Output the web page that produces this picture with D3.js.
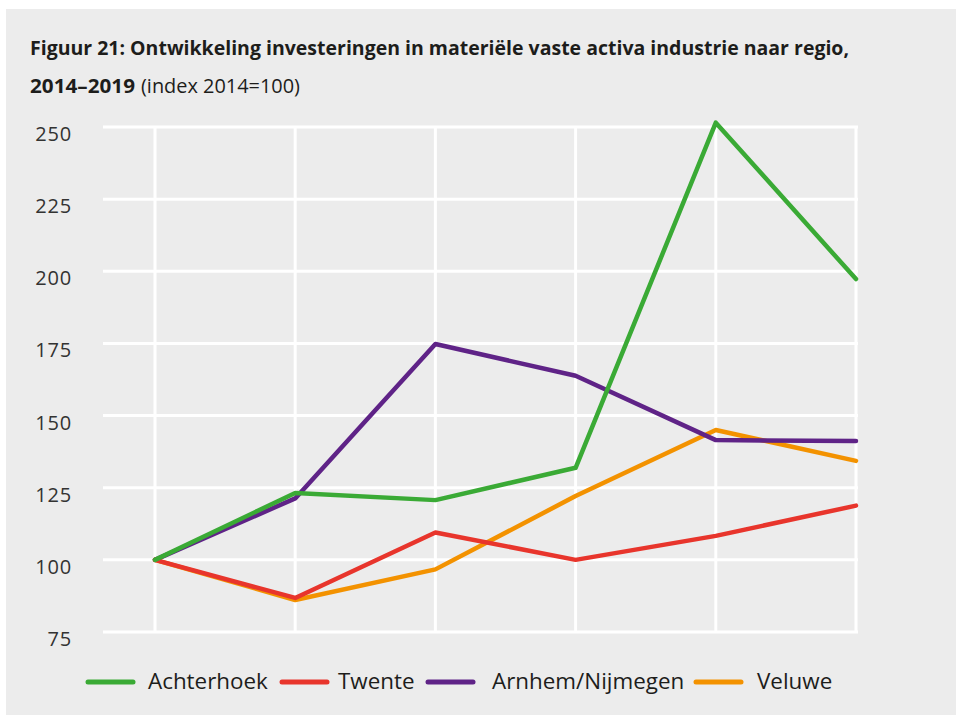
<!DOCTYPE html>
<html><head><meta charset="utf-8">
<script src="https://cdn.jsdelivr.net/npm/d3@7"></script>
<style>body{margin:0;background:#fff}svg{display:block}</style>
</head><body>
<svg id="c" width="956" height="715"></svg>
<script>
const years = [2014, 2015, 2016, 2017, 2018, 2019];
const yTicks = [75, 100, 125, 150, 175, 200, 225, 250];
const seriesNames = ["Achterhoek", "Twente", "Arnhem/Nijmegen", "Veluwe"];
const seriesColors = ["#3aaa35", "#e8352c", "#5f2387", "#f39200"];
const achterhoek = [100, 123.2, 120.7, 131.9, 251.5, 197.3];
const twente = [100, 86.8, 109.5, 100, 108.3, 118.8];
const arnhemNijmegen = [100, 121.3, 174.8, 163.8, 141.5, 141.2];
const veluwe = [100, 86.1, 96.7, 122.1, 145, 134.3];
const seriesValues = [achterhoek, twente, arnhemNijmegen, veluwe];

const svg = d3.select("#c");
svg.append("rect").attr("x", 6).attr("y", 9).attr("width", 950).attr("height", 706).attr("fill", "#ececec");

const x = d3.scalePoint().domain(years).range([155, 856]);
const y = d3.scaleLinear().domain([75, 250]).range([632, 127]);

// title
const font = "'Open Sans', sans-serif";
svg.append("text").attr("x", 30).attr("y", 55).attr("font-family", font).attr("font-weight", 700)
  .attr("font-size", 20).attr("fill", "#1d1d1b").attr("textLength", 819).attr("lengthAdjust", "spacingAndGlyphs")
  .text("Figuur 21: Ontwikkeling investeringen in materiële vaste activa industrie naar regio,");
svg.append("text").attr("x", 30).attr("y", 93).attr("font-family", font).attr("font-weight", 700)
  .attr("font-size", 20).attr("fill", "#1d1d1b").attr("textLength", 105).attr("lengthAdjust", "spacingAndGlyphs")
  .text("2014–2019");
svg.append("text").attr("x", 141).attr("y", 93).attr("font-family", font).attr("font-weight", 400)
  .attr("font-size", 20).attr("fill", "#1d1d1b").attr("textLength", 159).attr("lengthAdjust", "spacingAndGlyphs")
  .text("(index 2014=100)");

// grid
const g = svg.append("g");
g.selectAll("line.h").data(yTicks).enter().append("line")
  .attr("x1", 103).attr("x2", 858).attr("y1", d => y(d)).attr("y2", d => y(d))
  .attr("stroke", "#fff").attr("stroke-width", 3);
g.selectAll("line.v").data(years).enter().append("line")
  .attr("x1", d => x(d)).attr("x2", d => x(d)).attr("y1", y(250)).attr("y2", y(75))
  .attr("stroke", "#fff").attr("stroke-width", 3);

// y axis labels
const yAxis = d3.axisLeft(y).tickValues(yTicks).tickSize(0).tickPadding(0);
const ya = svg.append("g").attr("transform", "translate(72,0)").call(yAxis);
ya.select(".domain").remove();
ya.selectAll("text").attr("font-family", font).attr("font-size", 20).attr("fill", "#333332")
  .attr("font-weight", 500).attr("dy", null).attr("y", 13.5).attr("letter-spacing", 0.8);

// lines
const line = d3.line().x((d, i) => x(years[i])).y(d => y(d));
const order = [3, 2, 1, 0];
svg.append("g").selectAll("path").data(order).enter().append("path")
  .attr("d", i => line(seriesValues[i])).attr("fill", "none")
  .attr("stroke", i => seriesColors[i]).attr("stroke-width", 4.5)
  .attr("stroke-linejoin", "round").attr("stroke-linecap", "round");

// legend
const legX = [88, 282, 428, 696];
const txtX = [148, 338, 492, 757];
const lg = svg.append("g");
seriesNames.forEach((n, i) => {
  lg.append("line").attr("x1", legX[i]).attr("x2", legX[i] + 45).attr("y1", 682).attr("y2", 682)
    .attr("stroke", seriesColors[i]).attr("stroke-width", 5).attr("stroke-linecap", "round");
  lg.append("text").attr("x", txtX[i]).attr("y", 689).attr("font-family", font).attr("font-size", 22.4)
    .attr("fill", "#1d1d1b").text(n);
});
</script>
</body></html>
